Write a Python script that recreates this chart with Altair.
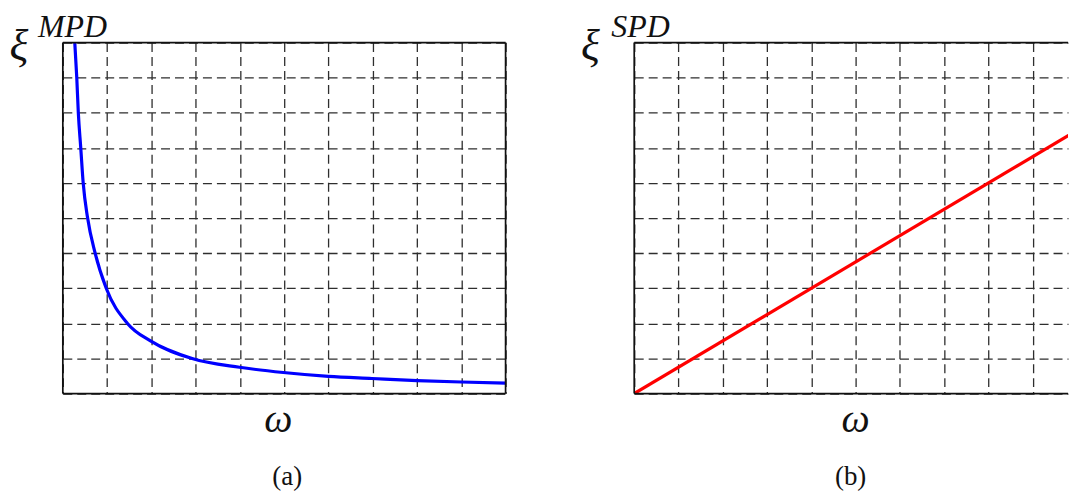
import altair as alt
import pandas as pd

# ---- data ----
omega_a = [0.27, 0.315, 0.35, 0.405, 0.46, 0.56, 0.73, 0.98, 1.46, 1.98, 2.92,
           3.99, 4.98, 6.0, 6.98, 8.0, 9.0, 10.0]
xi_mpd = [10.0, 9.0, 8.0, 7.0, 6.0, 5.0, 4.0, 3.0, 2.0, 1.5, 1.0,
          0.75, 0.6, 0.49, 0.43, 0.37, 0.33, 0.30]

omega_b = [0.0, 10.0]
xi_spd = [0.0, 7.5]

grid_a = list(range(0, 11))
grid_b = list(range(0, 10))

df_a = pd.DataFrame({"omega": omega_a, "xi": xi_mpd})
df_b = pd.DataFrame({"omega": omega_b, "xi": xi_spd})
one = pd.DataFrame({"k": [0]})

W_A, W_B, H = 444, 435, 352
GRID = dict(grid=True, gridDash=[9, 5], gridColor="#2e2e2e", gridWidth=1.3,
            domain=False, labels=False, ticks=False, title=None)
SERIF = "Liberation Serif"


def frame(w, sides):
    layers = []
    for s in sides:
        if s == "top":
            enc = dict(x=alt.value(0), x2=alt.value(w), y=alt.value(0))
        elif s == "bottom":
            enc = dict(x=alt.value(0), x2=alt.value(w), y=alt.value(H))
        elif s == "left":
            enc = dict(x=alt.value(0), y=alt.value(0), y2=alt.value(H))
        else:
            enc = dict(x=alt.value(w), y=alt.value(0), y2=alt.value(H))
        layers.append(alt.Chart(one).mark_rule(color="#111111", strokeWidth=1.7).encode(**enc))
    return layers


def anchor(x):
    # invisible rule that fixes the outer bounds of the page
    return alt.Chart(one).mark_rule(strokeOpacity=0, strokeWidth=0.1).encode(
        x=alt.value(x), y=alt.value(-41), y2=alt.value(452))


def label(txt, x, y, size, italic=True, align="center"):
    return alt.Chart(one).mark_text(
        text=txt, font=SERIF, fontSize=size, fontStyle="italic" if italic else "normal",
        align=align, baseline="alphabetic", color="#111111"
    ).encode(x=alt.value(x), y=alt.value(y))


def panel(df, color, w, xmax, grid_vals, sup, sides, wx, tagx, tag, supx, anchor_x):
    line = alt.Chart(df).mark_line(color=color, strokeWidth=3.2, clip=True,
                                   interpolate="monotone").encode(
        x=alt.X("omega:Q", scale=alt.Scale(domain=[0, xmax], nice=False, zero=False),
                axis=alt.Axis(values=grid_vals, **GRID)),
        y=alt.Y("xi:Q", scale=alt.Scale(domain=[0, 10], nice=False, zero=False),
                axis=alt.Axis(values=grid_a, **GRID)),
    )
    layers = [line] + frame(w, sides) + [
        anchor(anchor_x),
        label("ξ", -44, 17, 44),
        label(sup, supx, -6, 32, align="left"),
        label("ω", wx, 391, 40),
        label(tag, tagx, 444, 27, italic=False),
    ]
    return alt.layer(*layers).properties(width=w, height=H)


a = panel(df_a, "#0000ff", W_A, 10, grid_a, "MPD", ["top", "bottom", "left", "right"],
          216, 225, "(a)", -25, -62)
b = panel(df_b, "#ff0000", W_B, W_B / 44.4, grid_b, "SPD", ["top", "bottom", "left"],
          222, 217, "(b)", -23, W_B)

chart = alt.hconcat(a, b, spacing=129, bounds="flush").properties(
    padding=0,
    background="white",
).configure_view(stroke="transparent")

chart.save("out.html", embed_options={"renderer": "svg", "actions": False})
